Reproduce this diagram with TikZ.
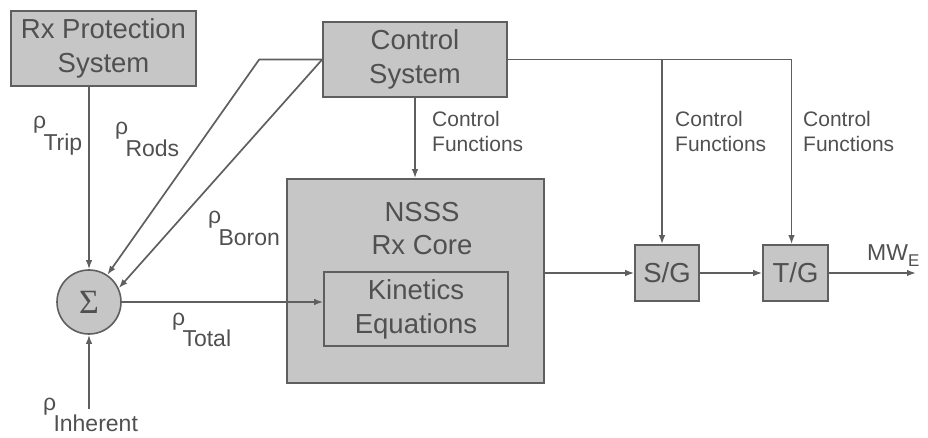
\documentclass[tikz,border=0pt]{standalone}
\usepackage{fontspec}
\setmainfont{Liberation Sans}
\newfontfamily\symbfont{Liberation Serif}
\usetikzlibrary{arrows.meta,positioning,calc}
\definecolor{ink}{RGB}{80,80,80}
\definecolor{boxgray}{RGB}{198,198,198}
\definecolor{wire}{RGB}{95,95,95}
% reactivity symbol with a dropped subscript
\newcommand{\rhosub}[1]{ρ\kern-.12em\raisebox{-.95em}{#1}}

\begin{document}
\begin{tikzpicture}[x=1pt,y=-1pt,>={Latex[length=9pt,width=6.5pt]},
    blk/.style={draw=wire,fill=boxgray,line width=1.6pt,text=ink,inner sep=0pt,
                align=center,font=\fontsize{27.5}{34}\selectfont},
    lbl/.style={text=ink,inner sep=0pt,align=left,anchor=west,font=\fontsize{21}{25}\selectfont},
    rlbl/.style={text=ink,inner sep=0pt,anchor=base west,font=\fontsize{23}{27}\selectfont},
    sig/.style={draw=wire,line width=1.7pt}]
  \useasboundingbox (0,0) rectangle (928,438);

  % blocks
  \node[blk,minimum width=185pt,minimum height=75pt] (prot) at (103.5,48.5) {Rx Protection\\System};
  \node[blk,minimum width=184pt,minimum height=75pt] (ctrl) at (415,59.5) {Control\\System};
  \node[blk,minimum width=257pt,minimum height=204pt] (nsss) at (415.5,281) {};
  \node[text=ink,inner sep=0pt,align=center,font=\fontsize{27.5}{33}\selectfont] (core) at (422,229) {NSSS\\Rx Core};
  \node[blk,minimum width=184pt,minimum height=74pt] (kin) at (416,309) {Kinetics\\Equations};
  \node[blk,circle,minimum size=64pt,font=\symbfont\fontsize{34}{34}\selectfont] (sum) at (89,302) {Σ};
  \node[blk,minimum width=64pt,minimum height=56pt] (sg) at (667,273) {S/G};
  \node[blk,minimum width=65pt,minimum height=56pt] (tg) at (795.5,273) {T/G};
  \coordinate[left=63pt of ctrl.west] (bend);
  \coordinate[below=74pt of sum.south] (inh0);
  \coordinate (mwe) at (916,273);

  % signal paths
  \draw[sig,->] (prot.south -| sum.north) -- (sum.north);
  \draw[sig,->] (inh0) -- (sum.south);
  \draw[sig,->] (ctrl.west) -- (bend) -- (sum.56);
  \draw[sig,->] (ctrl.west) -- (sum.25);
  \draw[sig,->] (ctrl.south) -- (ctrl.south |- nsss.north);
  \draw[sig,->] (sum.east) -- (sum.east -| kin.west);
  \draw[sig,->] (nsss.east |- sg.west) -- (sg.west);
  \draw[sig,->] (sg) -- (tg);
  \draw[sig,->] (tg) -- (mwe);
  \draw[sig,->] (ctrl.east) -| ([xshift=-4pt]tg.north);
  \draw[sig,->] ([xshift=-5pt]sg.north |- ctrl.east) -- ([xshift=-5pt]sg.north);

  % labels
  \node[lbl] (cf1) at (432,131) {Control\\Functions};
  \node[lbl] (cf2) at (675,131) {Control\\Functions};
  \node[lbl] (cf3) at (803,131) {Control\\Functions};
  \node[rlbl] (trip) at (33,129) {\rhosub{Trip}};
  \node[rlbl] (rods) at (115,135) {\rhosub{Rods}};
  \node[rlbl] (boron) at (208,224) {\rhosub{Boron}};
  \node[rlbl] (total) at (172,325) {\rhosub{Total}};
  \node[rlbl] (inh) at (43,410) {\rhosub{Inherent}};
  \node[rlbl] (mw) at (867,260) {MW\raisebox{-.3em}{\fontsize{17}{17}\selectfont E}};
\end{tikzpicture}
\end{document}
